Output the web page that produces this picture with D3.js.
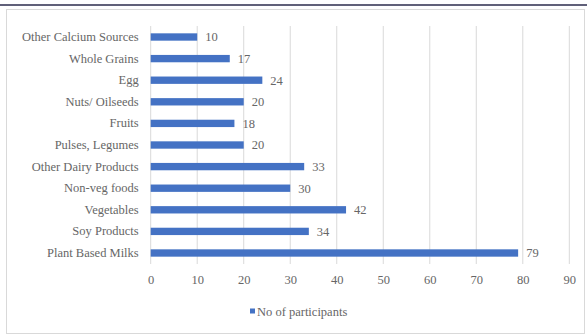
<!DOCTYPE html>
<html>
<head>
<meta charset="utf-8">
<script src="https://d3js.org/d3.v7.min.js"></script>
<style>
body { margin: 0; background: #fff; }
</style>
</head>
<body>
<div id="chart"></div>
<script>
// data
var categories = ["Other Calcium Sources", "Whole Grains", "Egg", "Nuts/ Oilseeds", "Fruits",
  "Pulses, Legumes", "Other Dairy Products", "Non-veg foods", "Vegetables", "Soy Products", "Plant Based Milks"];
var participants = [10, 17, 24, 20, 18, 20, 33, 30, 42, 34, 79];
var xTicks = [0, 10, 20, 30, 40, 50, 60, 70, 80, 90];
var seriesName = "No of participants";

var W = 587, H = 336;
var FONT = "'Liberation Serif', 'DejaVu Serif', serif";
var TXT = "#666666";

var svg = d3.select("#chart").append("svg")
  .attr("width", W).attr("height", H);

// dark rule at the top
svg.append("line")
  .attr("x1", 0).attr("x2", W).attr("y1", 5).attr("y2", 5)
  .attr("stroke", "#2b2b4d").attr("stroke-width", 1.6);

// chart frame
svg.append("rect")
  .attr("x", 6.5).attr("y", 9.5).attr("width", 578).attr("height", 324)
  .attr("fill", "none").attr("stroke", "#d9d9d9").attr("stroke-width", 1);

// scales
var xScale = d3.scaleLinear().domain([0, 90]).range([150.7, 569.3]);
var yScale = d3.scaleBand().domain(categories).range([26.2, 263.8])
  .paddingInner(0.66).paddingOuter(0.33);

// gridlines
svg.append("g")
  .selectAll("line")
  .data(xTicks)
  .join("line")
  .attr("x1", function(d) { return xScale(d); })
  .attr("x2", function(d) { return xScale(d); })
  .attr("y1", 26).attr("y2", 264)
  .attr("stroke", "#d9d9d9").attr("stroke-width", 1);

// x axis labels
var xAxis = d3.axisBottom(xScale).tickValues(xTicks).tickSize(0).tickPadding(11);
var gx = svg.append("g")
  .attr("transform", "translate(0,264)")
  .call(xAxis);
gx.select(".domain").remove();
gx.selectAll("text")
  .style("font-family", FONT).style("font-size", "12.5px").attr("fill", TXT);

// y axis labels
var yAxis = d3.axisLeft(yScale).tickSize(0).tickPadding(12);
var gy = svg.append("g")
  .attr("transform", "translate(150.7,0)")
  .call(yAxis);
gy.select(".domain").remove();
gy.selectAll("text")
  .style("font-family", FONT).style("font-size", "12.5px").attr("fill", TXT);

// bars
var rows = categories.map(function(c, i) { return { name: c, value: participants[i] }; });
svg.append("g")
  .selectAll("rect")
  .data(rows)
  .join("rect")
  .attr("x", xScale(0))
  .attr("y", function(d) { return yScale(d.name); })
  .attr("width", function(d) { return xScale(d.value) - xScale(0); })
  .attr("height", yScale.bandwidth())
  .attr("fill", "#4472c4");

// value labels
svg.append("g")
  .selectAll("text")
  .data(rows)
  .join("text")
  .attr("x", function(d) { return xScale(d.value) + 8; })
  .attr("y", function(d) { return yScale(d.name) + yScale.bandwidth() / 2; })
  .attr("dy", "0.35em")
  .style("font-family", FONT).style("font-size", "12.5px").attr("fill", TXT)
  .text(function(d) { return d.value; });

// legend
svg.append("rect")
  .attr("x", 250).attr("y", 308.5).attr("width", 5).attr("height", 5)
  .attr("fill", "#4472c4");
svg.append("text")
  .attr("x", 257).attr("y", 315.5)
  .style("font-family", FONT).style("font-size", "12.5px").attr("fill", TXT)
  .text(seriesName);
</script>
</body>
</html>
